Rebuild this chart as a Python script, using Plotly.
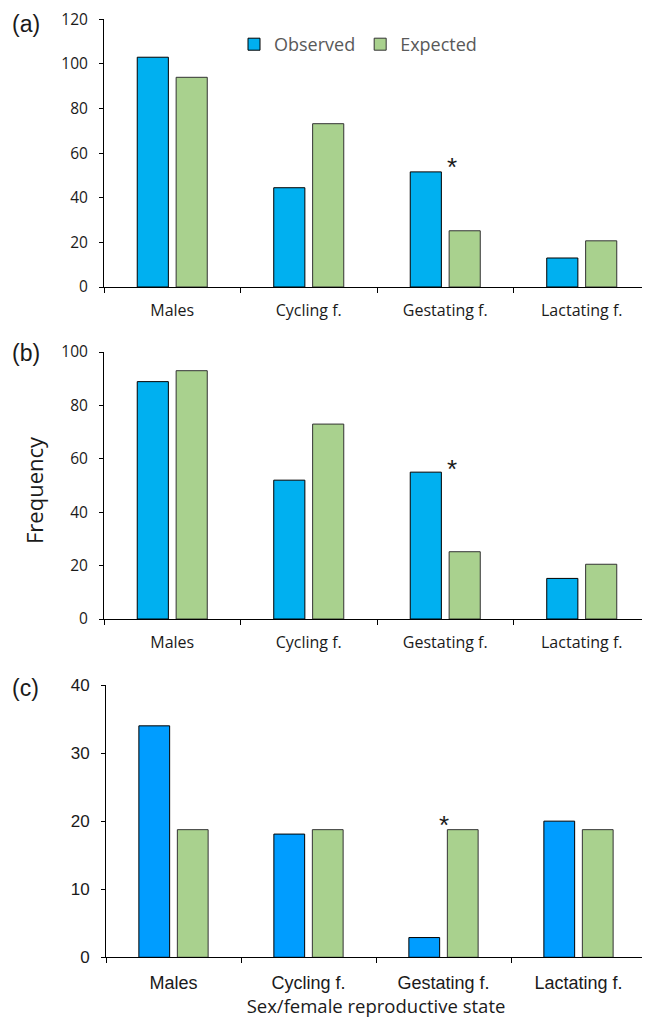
import plotly.graph_objects as go

categories = ["Males", "Cycling f.", "Gestating f.", "Lactating f."]

obs_a = [103, 44.5, 51.6, 13]
exp_a = [94, 73.2, 25.2, 20.7]

obs_b = [88.9, 52, 55, 15.2]
exp_b = [93, 73, 25.2, 20.5]

obs_c = [34, 18.1, 2.9, 20]
exp_c = [18.75, 18.75, 18.75, 18.75]

star_a = 57
star_b = 58.8
star_c = 20.5

# page body has an 8px default margin; figure is sized to fill the rest
OFF = 8
W, H = 650 - OFF, 1025 - OFF
BLUE_AB = "#00B0F0"
BLUE_C = "#009DFF"
GREEN = "#A9D18E"

SANS = "Open Sans"
ARIAL = "Liberation Sans"

fig = go.Figure()

panels = [
    ("x", "y", obs_a, exp_a, BLUE_AB, True),
    ("x2", "y2", obs_b, exp_b, BLUE_AB, False),
    ("x3", "y3", obs_c, exp_c, BLUE_C, False),
]
for xa, ya, obs, exp, blue, show in panels:
    fig.add_trace(go.Bar(x=categories, y=obs, name="Observed", xaxis=xa, yaxis=ya,
                         marker=dict(color=blue, line=dict(color="#000000", width=1)),
                         showlegend=show, legendgroup="obs"))
    fig.add_trace(go.Bar(x=categories, y=exp, name="Expected", xaxis=xa, yaxis=ya,
                         marker=dict(color=GREEN, line=dict(color="#333333", width=1)),
                         showlegend=show, legendgroup="exp"))

def px_(x):
    return (x - OFF) / W

def py(y):
    return 1 - (y - OFF) / H

def xax(domain, font):
    return dict(domain=domain, type="category", showline=True, linecolor="black", linewidth=1,
                ticks="outside", tickson="boundaries", ticklen=5, tickcolor="black",
                showgrid=False, zeroline=False, tickfont=font, ticklabelstandoff=9,
                fixedrange=True, automargin=False, ticklabeloverflow="allow")

def yax(domain, rng, dtick, font):
    return dict(domain=domain, range=rng, dtick=dtick, showline=True, linecolor="black", linewidth=1,
                ticks="outside", ticklen=4, tickcolor="black", showgrid=False, zeroline=False,
                tickfont=font, ticklabelstandoff=8, fixedrange=True, automargin=False,
                ticklabeloverflow="allow")

font_ab = dict(family=SANS, size=15.5, color="#1a1a1a")
font_ab_cat = dict(family=SANS, size=16, color="#1a1a1a")
font_c = dict(family=ARIAL, size=17, color="#1a1a1a")
font_c_cat = dict(family=ARIAL, size=18, color="#1a1a1a")

xd_ab = [px_(104), 1.0]
xd_c = [px_(106), px_(646)]

fig.update_layout(
    width=W, height=H,
    margin=dict(l=0, r=0, t=0, b=0, autoexpand=False),
    paper_bgcolor="white", plot_bgcolor="white",
    barmode="group", bargap=0.43, bargroupgap=0.2,
    xaxis=dict(**xax(xd_ab, font_ab_cat), anchor="y"),
    yaxis=dict(**yax([py(287), py(19.3)], [0, 120], 20, font_ab), anchor="x"),
    xaxis2=dict(**xax(xd_ab, font_ab_cat), anchor="y2"),
    yaxis2=dict(**yax([py(619), py(352)], [0, 100], 20, font_ab), anchor="x2"),
    xaxis3=dict(**xax(xd_c, font_c_cat), anchor="y3",
                title=dict(text="Sex/female reproductive state",
                           font=dict(family=SANS, size=18.5, color="#1a1a1a"), standoff=5)),
    yaxis3=dict(**yax([py(957.3), py(685)], [0, 40], 10, font_c), anchor="x3"),
    legend=dict(orientation="h", x=px_(234), y=py(26), xanchor="left", yanchor="top",
                font=dict(family=SANS, size=18, color="#595959"), bgcolor="rgba(0,0,0,0)",
                itemclick=False, itemdoubleclick=False, itemwidth=30),
    showlegend=True,
)

annotations = [
    dict(text="(a)", x=px_(10), y=py(24), xref="paper", yref="paper", xanchor="left", yanchor="middle",
         showarrow=False, font=dict(family=ARIAL, size=23, color="#1a1a1a")),
    dict(text="(b)", x=px_(10), y=py(353), xref="paper", yref="paper", xanchor="left", yanchor="middle",
         showarrow=False, font=dict(family=ARIAL, size=23, color="#1a1a1a")),
    dict(text="(c)", x=px_(10), y=py(688), xref="paper", yref="paper", xanchor="left", yanchor="middle",
         showarrow=False, font=dict(family=ARIAL, size=23, color="#1a1a1a")),
    dict(text="Frequency", x=px_(34), y=py(490), xref="paper", yref="paper", xanchor="center",
         yanchor="middle", textangle=-90, showarrow=False,
         font=dict(family=SANS, size=22, color="#1a1a1a")),
    dict(text="*", x="Gestating f.", y=star_a, xref="x", yref="y", xshift=7, yshift=-7,
         showarrow=False, font=dict(family=ARIAL, size=26, color="#1a1a1a")),
    dict(text="*", x="Gestating f.", y=star_b, xref="x2", yref="y2", xshift=7, yshift=-7,
         showarrow=False, font=dict(family=ARIAL, size=26, color="#1a1a1a")),
    dict(text="*", x="Gestating f.", y=star_c, xref="x3", yref="y3", xshift=0, yshift=-7,
         showarrow=False, font=dict(family=ARIAL, size=26, color="#1a1a1a")),
]
fig.update_layout(annotations=annotations)

fig.write_html("out.html")
